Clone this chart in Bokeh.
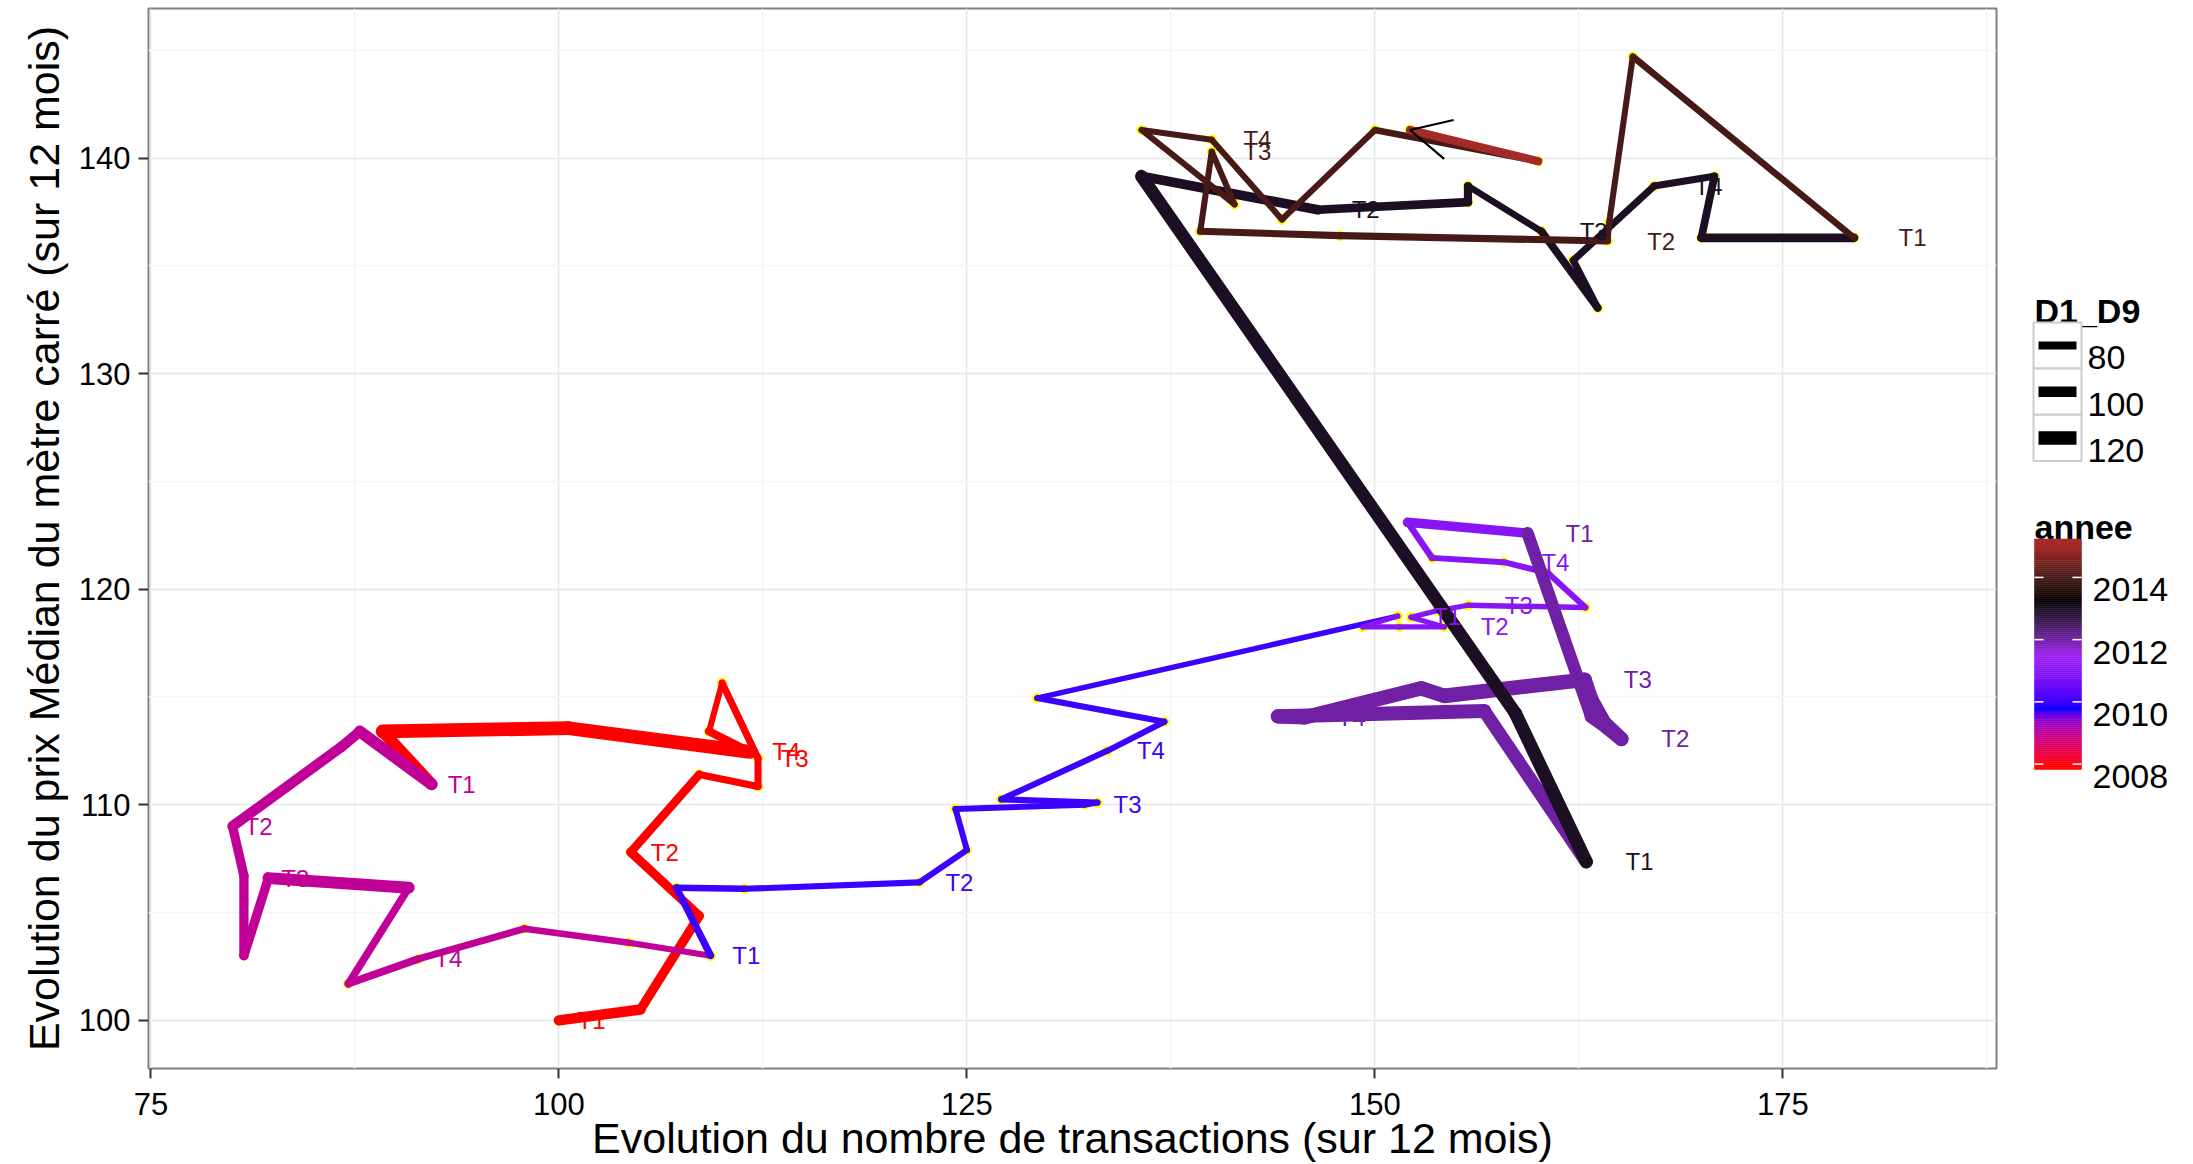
import numpy as np
from bokeh.plotting import figure
from bokeh.layouts import row
from bokeh.models import (Range1d, FixedTicker, LinearColorMapper, ColumnDataSource,
                          Arrow, OpenHead)
from bokeh.transform import transform
from bokeh.core.properties import value
from bokeh.embed import file_html
from bokeh.resources import INLINE

# ---------------- data (monthly points) ----------------
x_2008 = [100.0, 105.0, 108.6, 104.4, 108.6, 112.2, 112.2, 110.0, 109.2, 111.7, 100.6, 89.2]
y_2008 = [100.0, 100.5, 104.85, 107.8, 111.4, 110.85, 112.15, 115.65, 113.4, 112.45, 113.55, 113.4]
d_2008 = [98, 90, 88, 84, 74, 74, 74, 67, 82, 122, 122, 108]

x_2009 = [92.2, 87.8, 86.7, 80.0, 80.7, 80.7, 82.2, 90.8, 87.1, 91.4, 97.9, 104.3]
y_2009 = [110.95, 113.4, 112.7, 109.0, 106.7, 103.0, 106.6, 106.15, 101.7, 102.85, 104.25, 103.6]
d_2009 = [108, 98, 98, 90, 90, 90, 108, 78, 78, 74, 70, 67]

x_2010 = [109.3, 107.2, 111.4, 122.1, 125.0, 124.3, 132.2, 133.0, 127.1, 133.6, 137.1, 129.3]
y_2010 = [103.0, 106.15, 106.1, 106.4, 107.9, 109.8, 110.0, 110.1, 110.25, 112.5, 113.85, 114.95]
d_2010 = [74, 70, 67, 67, 67, 67, 67, 67, 67, 67, 67, 62]

x_2011 = [151.4, 149.25, 151.5, 154.25, 152.2, 153.8, 155.7, 162.9, 160.6, 157.9, 153.5, 152.0]
y_2011 = [118.75, 118.25, 118.25, 118.25, 118.7, 119.0, 119.25, 119.15, 120.75, 121.25, 121.45, 123.1]
d_2011 = [60, 60, 60, 60, 60, 60, 63, 66, 66, 66, 70, 92]

x_2012 = [159.35, 163.25, 164.2, 165.1, 164.05, 163.25, 162.85, 154.25, 152.85, 145.65, 144.05, 156.7]
y_2012 = [122.6, 114.1, 113.6, 113.05, 113.8, 114.9, 115.8, 115.05, 115.4, 114.05, 114.1, 114.35]
d_2012 = [112, 120, 126, 126, 126, 126, 128, 126, 126, 124, 124, 118]

x_2013 = [162.95, 158.6, 135.7, 146.5, 155.7, 155.7, 160.2, 163.65, 162.15, 167.1, 170.8, 170.0]
y_2013 = [107.35, 114.25, 139.15, 137.6, 137.95, 138.7, 136.6, 133.05, 135.25, 138.7, 139.15, 136.3]
d_2013 = [118, 116, 92, 86, 82, 71, 79, 74, 74, 74, 79, 86]

x_2014 = [179.35, 165.8, 164.35, 164.25, 147.85, 139.3, 140.0, 141.4, 135.7, 140.0, 144.3, 150.0]
y_2014 = [136.3, 144.7, 137.0, 136.15, 136.4, 136.6, 140.3, 137.85, 141.3, 140.85, 137.15, 141.3]
d_2014 = [71, 67, 67, 74, 74, 67, 67, 67, 67, 67, 67, 70]

x_2015 = [160.0, 152.15]
y_2015 = [139.85, 141.3]
d_2015 = [82, 82]

annees = [2008, 2009, 2010, 2011, 2012, 2013, 2014, 2015]
trimestres = ["T1", "", "", "T2", "", "", "T3", "", "", "T4", "", ""]
labelled_years = [2008, 2009, 2010, 2011, 2012, 2013, 2014]

x_ticks = [75, 100, 125, 150, 175]
y_ticks = [100, 110, 120, 130, 140]
d1_d9_breaks = [80, 100, 120]
annee_breaks = [2008, 2010, 2012, 2014]
gradient_colours = ["#FF0000", "#0000FF", "#A020F0", "#000000", "#A52A2A"]

X_TITLE = "Evolution du nombre de transactions (sur 12 mois)"
Y_TITLE = "Evolution du prix Médian du mètre carré (sur 12 mois)"

xs_by_year = [x_2008, x_2009, x_2010, x_2011, x_2012, x_2013, x_2014, x_2015]
ys_by_year = [y_2008, y_2009, y_2010, y_2011, y_2012, y_2013, y_2014, y_2015]
ds_by_year = [d_2008, d_2009, d_2010, d_2011, d_2012, d_2013, d_2014, d_2015]

# ---------------- Lab gradient (like ggplot's gradientn) ----------------
M = np.array([[0.4124564, 0.3575761, 0.1804375],
              [0.2126729, 0.7151522, 0.0721750],
              [0.0193339, 0.1191920, 0.9503041]])
Minv = np.linalg.inv(M)
WHITE = np.array([0.95047, 1.0, 1.08883])
EPS = 6 / 29


def to_lab(h):
    rgb = np.array([int(h[i:i + 2], 16) for i in (1, 3, 5)]) / 255.0
    lin = np.where(rgb <= 0.04045, rgb / 12.92, ((rgb + 0.055) / 1.055) ** 2.4)
    xyz = (M @ lin) / WHITE
    f = np.where(xyz > EPS ** 3, np.cbrt(xyz), xyz / (3 * EPS ** 2) + 4 / 29)
    return np.array([116 * f[1] - 16, 500 * (f[0] - f[1]), 200 * (f[1] - f[2])])


def from_lab(lab):
    fy = (lab[0] + 16) / 116
    f = np.array([fy + lab[1] / 500, fy, fy - lab[2] / 200])
    xyz = np.where(f > EPS, f ** 3, 3 * EPS ** 2 * (f - 4 / 29)) * WHITE
    lin = np.clip(Minv @ xyz, 0, 1)
    s = np.where(lin <= 0.0031308, 12.92 * lin, 1.055 * lin ** (1 / 2.4) - 0.055)
    s = np.clip(np.round(s * 255), 0, 255).astype(int)
    return "#%02X%02X%02X" % tuple(s)


labs = np.array([to_lab(c) for c in gradient_colours])
stops = np.linspace(0, 1, len(gradient_colours))
tt = np.linspace(0, 1, 256)
palette = [from_lab(np.array([np.interp(t, stops, labs[:, k]) for k in range(3)])) for t in tt]
mapper = LinearColorMapper(palette=palette, low=min(annees), high=max(annees))

# ---------------- assemble ----------------
xs, ys, ds, yrs, labels = [], [], [], [], []
for yr, xv, yv, dv in zip(annees, xs_by_year, ys_by_year, ds_by_year):
    xs += xv
    ys += yv
    ds += dv
    yrs += [yr] * len(xv)
    labels += (trimestres[:len(xv)] if yr in labelled_years else [""] * len(xv))
xs = np.array(xs); ys = np.array(ys); ds = np.array(ds, float); yrs = np.array(yrs)


def size_scale(d):
    return 0.14 * np.asarray(d, float) - 3.3


NUDGE = 1.02
lab_mask = np.array([l != "" for l in labels])
lab_x = xs[lab_mask] * NUDGE

allx = np.concatenate([xs, lab_x])
x_lo, x_hi = allx.min(), allx.max()
y_lo, y_hi = ys.min(), ys.max()
ex, ey = 0.05 * (x_hi - x_lo), 0.05 * (y_hi - y_lo)

FONT = "Liberation Sans"
H = 1164
TOP, BOTTOM = 8, 94
W_MAIN = 2000
W_LEG = 190

p = figure(width=W_MAIN, height=H,
           x_range=Range1d(x_lo - ex, x_hi + ex), y_range=Range1d(y_lo - ey, y_hi + ey),
           output_backend="svg", toolbar_location=None,
           min_border_left=148, min_border_right=4, min_border_top=TOP, min_border_bottom=BOTTOM)
p.outline_line_color = "#7F7F7F"
p.outline_line_width = 2
p.background_fill_color = "white"
p.border_fill_color = "white"

p.xaxis.ticker = FixedTicker(ticks=x_ticks,
                             minor_ticks=[t + 12.5 for t in x_ticks])
p.yaxis.ticker = FixedTicker(ticks=y_ticks,
                             minor_ticks=[t - 5 for t in y_ticks] + [y_ticks[-1] + 5])
for g in (p.xgrid, p.ygrid):
    g.grid_line_color = "#E6E6E6"
    g.grid_line_width = 1.6
    g.minor_grid_line_color = "#F5F5F5"
    g.minor_grid_line_width = 1.6

for ax in (p.xaxis, p.yaxis):
    ax.axis_line_color = None
    ax.minor_tick_line_color = None
    ax.major_tick_line_color = "#333333"
    ax.major_tick_line_width = 2
    ax.major_tick_out = 10
    ax.major_tick_in = 0
    ax.major_label_text_font = FONT
    ax.major_label_text_font_size = "31px"
    ax.major_label_text_color = "#000000"
    ax.axis_label_text_font = FONT
    ax.axis_label_text_font_size = "43px"
    ax.axis_label_text_font_style = "normal"
    ax.axis_label_text_color = "#000000"

p.xaxis.axis_label = X_TITLE
p.yaxis.axis_label = Y_TITLE
p.xaxis.major_label_standoff = 14
p.xaxis.axis_label_standoff = -4
p.yaxis.major_label_standoff = 8
p.yaxis.axis_label_standoff = 8

# points (under the path)
p.scatter(xs, ys, size=9.5, fill_color="yellow", line_color="yellow")

# path segments, coloured and sized by the starting point
seg = ColumnDataSource(dict(x0=xs[:-1], y0=ys[:-1], x1=xs[1:], y1=ys[1:],
                            annee=yrs[:-1], w=size_scale(ds[:-1])))
p.segment("x0", "y0", "x1", "y1", source=seg, line_width="w",
          line_color=transform("annee", mapper), line_cap="round")

# quarter labels
lab = ColumnDataSource(dict(x=lab_x, y=ys[lab_mask], t=np.array(labels)[lab_mask],
                            annee=yrs[lab_mask]))
p.text("x", "y", text="t", source=lab, text_color=transform("annee", mapper),
       text_font=value(FONT), text_font_size=value("24px"),
       text_align="center", text_baseline="middle")

# arrow at the end of the path
p.add_layout(Arrow(end=OpenHead(size=40, line_color="black", line_width=2.2),
                   x_start=xs[-2], y_start=ys[-2], x_end=xs[-1], y_end=ys[-1],
                   line_alpha=0))

# ---------------- legend panel (data coords == page pixels) ----------------
DY = 11.5
leg = figure(width=W_LEG, height=H, x_range=Range1d(W_MAIN, W_MAIN + W_LEG),
             y_range=Range1d(H - BOTTOM + DY, TOP + DY), x_axis_type=None, y_axis_type=None,
             output_backend="svg", toolbar_location=None,
             min_border_left=0, min_border_right=0, min_border_top=TOP, min_border_bottom=BOTTOM)
leg.outline_line_color = None
leg.background_fill_color = "white"
leg.border_fill_color = "white"

KX0, KX1 = 2033, 2081
LX = 2087
# D1_D9 legend
leg.text([2034], [323], text=["D1_D9"], text_font=value(FONT), text_font_size=value("34px"),
         text_font_style="bold", text_color="black", text_baseline="alphabetic")
key_h = 46.3
key_top = 334
tops = [key_top + i * key_h for i in range(len(d1_d9_breaks))]
leg.quad(left=KX0, right=KX1, top=tops, bottom=[t + key_h for t in tops],
         fill_color="white", line_color="#CCCCCC", line_width=2)
mids = [t + key_h / 2 for t in tops]
leg.segment(x0=[2038] * 3, x1=[2076] * 3, y0=mids, y1=mids, line_color="black",
            line_width=list(size_scale(d1_d9_breaks)), line_cap="butt")
leg.text([LX] * 3, [m + 12.5 for m in mids], text=[str(b) for b in d1_d9_breaks],
         text_font=value(FONT), text_font_size=value("34px"), text_color="black",
         text_baseline="alphabetic")

# annee colour bar
leg.text([2034], [539], text=["annee"], text_font=value(FONT), text_font_size=value("34px"),
         text_font_style="bold", text_color="black", text_baseline="alphabetic")
cb_top, cb_bot = 551, 782
y_first, y_last = 776.5, 589.5          # screen rows of first / last break
ppy = (y_first - y_last) / (annee_breaks[-1] - annee_breaks[0])
edges = np.linspace(cb_bot, cb_top, 117)
centers = (edges[:-1] + edges[1:]) / 2
cb = ColumnDataSource(dict(b=edges[:-1], t=edges[1:],
                           annee=annee_breaks[0] + (y_first - centers) / ppy))
leg.quad(left=2034, right=2081, bottom="b", top="t", source=cb,
         fill_color=transform("annee", mapper), line_color=transform("annee", mapper),
         line_width=0.5)
tick_y = [y_first - (b - annee_breaks[0]) * ppy for b in annee_breaks]
leg.segment(x0=[2034] * 4, x1=[2043] * 4, y0=tick_y, y1=tick_y, line_color="white", line_width=1.5)
leg.segment(x0=[2072] * 4, x1=[2081] * 4, y0=tick_y, y1=tick_y, line_color="white", line_width=1.5)
leg.text([2092] * 4, [t + 12.5 for t in tick_y], text=[str(b) for b in annee_breaks],
         text_font=value(FONT), text_font_size=value("34px"), text_color="black",
         text_baseline="alphabetic")

layout = row(p, leg)
open("out.html", "w").write(file_html(layout, INLINE))
